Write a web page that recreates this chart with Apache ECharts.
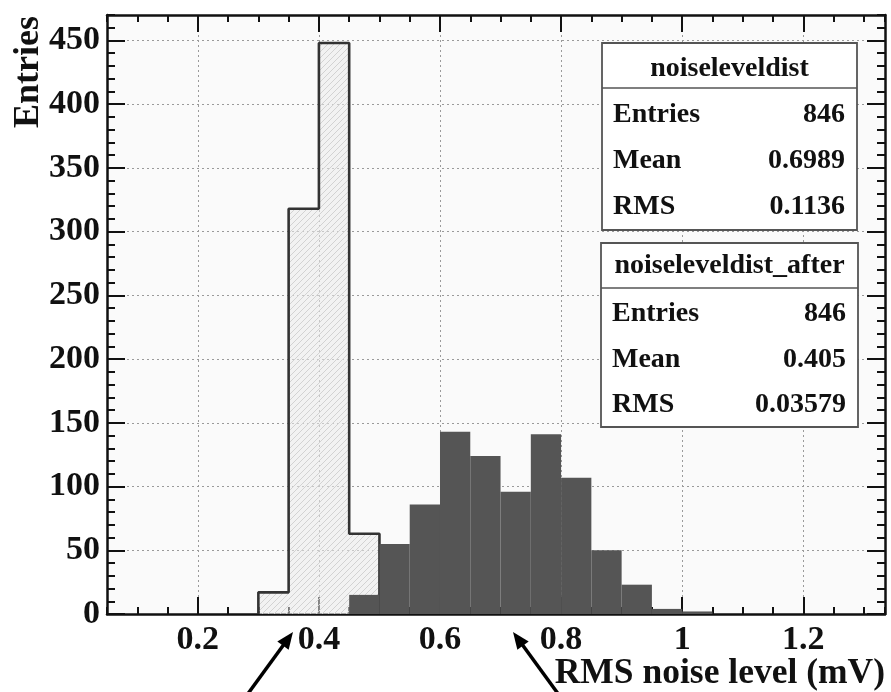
<!DOCTYPE html>
<html>
<head>
<meta charset="utf-8">
<script src="https://cdn.jsdelivr.net/npm/echarts@6/dist/echarts.min.js"></script>
<style>
html,body{margin:0;padding:0;background:#fff;}
#c{width:891px;height:692px;}
</style>
</head>
<body>
<div id="c"></div>
<script>
// ---- data ----
const binWidth = 0.05;
const afterBinStarts = [0.30, 0.35, 0.40, 0.45];
const afterCounts = [17, 318, 448, 63];
const beforeBinStarts = [0.45, 0.50, 0.55, 0.60, 0.65, 0.70, 0.75, 0.80, 0.85, 0.90, 0.95, 1.00];
const beforeCounts = [15, 55, 86, 143, 124, 96, 141, 107, 50, 23, 4, 2];
const xMajorTicks = [0.2, 0.4, 0.6, 0.8, 1.0, 1.2];
const yMajorTicks = [0, 50, 100, 150, 200, 250, 300, 350, 400, 450];
const statsBefore = {name: 'noiseleveldist', rows: [['Entries', '846'], ['Mean', '0.6989'], ['RMS', '0.1136']]};
const statsAfter = {name: 'noiseleveldist_after', rows: [['Entries', '846'], ['Mean', '0.405'], ['RMS', '0.03579']]};
const xTitle = 'RMS noise level (mV)';
const yTitle = 'Entries';

// ---- styling ----
const FONT = '"Liberation Serif", "DejaVu Serif", serif';
const INK = '#111';
const X_MIN = 0.05, X_MAX = 1.335, Y_MIN = 0, Y_MAX = 470;

function hatchPattern() {
  const c = document.createElement('canvas');
  c.width = 6; c.height = 6;
  const g = c.getContext('2d');
  g.fillStyle = 'rgba(235,235,235,0.55)';
  g.fillRect(0, 0, 6, 6);
  g.strokeStyle = '#d2d2d2';
  g.lineWidth = 1;
  g.beginPath();
  g.moveTo(0, 6); g.lineTo(6, 0);
  g.moveTo(-2, 2); g.lineTo(2, -2);
  g.moveTo(4, 8); g.lineTo(8, 4);
  g.stroke();
  return {image: c, repeat: 'repeat'};
}

function binData(starts, counts) {
  return starts.map((s, i) => [s, s + binWidth, counts[i]]);
}
function rectRenderer(fill) {
  return function (params, api) {
    const p0 = api.coord([api.value(0), api.value(2)]);
    const p1 = api.coord([api.value(1), 0]);
    return {
      type: 'rect',
      shape: {x: p0[0], y: p0[1], width: p1[0] - p0[0], height: p1[1] - p0[1]},
      style: {fill: fill}
    };
  };
}
function outline(starts, counts) {
  const pts = [[starts[0], 0]];
  starts.forEach((s, i) => { pts.push([s, counts[i]]); pts.push([s + binWidth, counts[i]]); });
  pts.push([starts[starts.length - 1] + binWidth, 0]);
  return pts;
}

const lineStyleAxis = {color: INK, width: 2.5};
const tickStyle = {color: INK, width: 2};
const gridLine = {type: [2, 3], color: '#9a9a9a', width: 1};

function xAxisDef(pos, major) {
  const base = {type: 'value', position: pos, min: X_MIN, max: X_MAX,
    axisLine: {show: major, onZero: false, lineStyle: lineStyleAxis},
    splitLine: {show: false}, axisLabel: {show: false}};
  if (major) {
    base.axisTick = {inside: true, length: 17, customValues: xMajorTicks, lineStyle: tickStyle};
    if (pos === 'bottom') {
      base.axisLabel = {show: true, customValues: xMajorTicks, fontFamily: FONT, fontWeight: 'bold',
        fontSize: 34, color: INK, margin: 9};
      base.splitLine = {show: true, lineStyle: gridLine};
    }
  } else {
    base.interval = 0.05;
    base.axisTick = {inside: true, length: 7, lineStyle: tickStyle};
  }
  return base;
}
function yAxisDef(pos, major) {
  const base = {type: 'value', position: pos, min: Y_MIN, max: Y_MAX,
    axisLine: {show: major, onZero: false, lineStyle: lineStyleAxis},
    splitLine: {show: false}, axisLabel: {show: false}};
  if (major) {
    base.axisTick = {inside: true, length: 18, customValues: yMajorTicks, lineStyle: tickStyle};
    if (pos === 'left') {
      base.axisLabel = {show: true, customValues: yMajorTicks, fontFamily: FONT, fontWeight: 'bold',
        fontSize: 34, color: INK, margin: 7};
      base.splitLine = {show: true, lineStyle: gridLine};
    }
  } else {
    base.interval = 10;
    base.axisTick = {inside: true, length: 8, lineStyle: tickStyle};
  }
  return base;
}

function statsBox(stats, x, y, w, h, divY, titleY, rowYs) {
  const children = [
    {type: 'rect', z: 100, shape: {x: x, y: y, width: w, height: h}, style: {fill: '#fff', stroke: '#555', lineWidth: 1.8}},
    {type: 'line', z: 101, shape: {x1: x, y1: divY, x2: x + w, y2: divY}, style: {stroke: '#555', lineWidth: 1.5}},
    {type: 'text', z: 102, x: x + w / 2, y: titleY, style: {text: stats.name, font: 'bold 28px ' + FONT,
      fill: INK, textAlign: 'center', textVerticalAlign: 'middle'}}
  ];
  stats.rows.forEach((r, i) => {
    children.push({type: 'text', z: 102, x: x + 11, y: rowYs[i], style: {text: r[0], font: 'bold 28px ' + FONT,
      fill: INK, textAlign: 'left', textVerticalAlign: 'middle'}});
    children.push({type: 'text', z: 102, x: x + w - 12, y: rowYs[i], style: {text: r[1], font: 'bold 28px ' + FONT,
      fill: INK, textAlign: 'right', textVerticalAlign: 'middle'}});
  });
  return {type: 'group', z: 100, children: children};
}

function arrow(sx, sy, tx, ty) {
  const dx = tx - sx, dy = ty - sy, L = Math.hypot(dx, dy);
  const ux = dx / L, uy = dy / L, nx = -uy, ny = ux;
  const hl = 17, hw = 7;
  return [
    {type: 'line', z: 110, shape: {x1: sx, y1: sy, x2: tx - ux * 10, y2: ty - uy * 10},
      style: {stroke: '#000', lineWidth: 3.5}},
    {type: 'polygon', z: 110, shape: {points: [[tx, ty],
      [tx - ux * hl + nx * hw, ty - uy * hl + ny * hw],
      [tx - ux * hl - nx * hw, ty - uy * hl - ny * hw]]}, style: {fill: '#000'}}
  ];
}

const chart = echarts.init(document.getElementById('c'), null, {renderer: 'canvas'});
chart.setOption({
  backgroundColor: '#fff',
  animation: false,
  grid: {left: 107, right: 6, top: 15, bottom: 78, show: true, backgroundColor: '#fafafa', borderWidth: 0},
  xAxis: [xAxisDef('bottom', true), xAxisDef('bottom', false), xAxisDef('top', true), xAxisDef('top', false)],
  yAxis: [yAxisDef('left', true), yAxisDef('left', false), yAxisDef('right', true), yAxisDef('right', false)],
  series: [
    {type: 'custom', name: 'noiseleveldist_after', z: 2, renderItem: rectRenderer(hatchPattern()),
      encode: {x: [0, 1], y: 2}, data: binData(afterBinStarts, afterCounts)},
    {type: 'line', name: 'after outline', z: 3, symbol: 'none', animation: false,
      lineStyle: {color: '#333', width: 2.6}, data: outline(afterBinStarts, afterCounts)},
    {type: 'custom', name: 'noiseleveldist', z: 4, renderItem: rectRenderer('#555555'),
      encode: {x: [0, 1], y: 2}, data: binData(beforeBinStarts, beforeCounts)}
  ],
  graphic: [
    statsBox(statsBefore, 602, 43, 255, 187, 88, 69, [115, 161, 207]),
    statsBox(statsAfter, 601, 243, 257, 184, 288, 266, [314, 360, 405]),
    {type: 'text', z: 100, x: 885, y: 674, style: {text: xTitle, font: 'bold 35.5px ' + FONT, fill: INK,
      textAlign: 'right', textVerticalAlign: 'middle'}},
    {type: 'text', z: 100, x: 29, y: 16, rotation: Math.PI / 2, style: {text: yTitle, font: 'bold 36px ' + FONT,
      fill: INK, textAlign: 'right', textVerticalAlign: 'middle'}},
    ...arrow(247, 695, 293, 632),
    ...arrow(559, 695, 513, 632)
  ]
});
</script>
</body>
</html>
